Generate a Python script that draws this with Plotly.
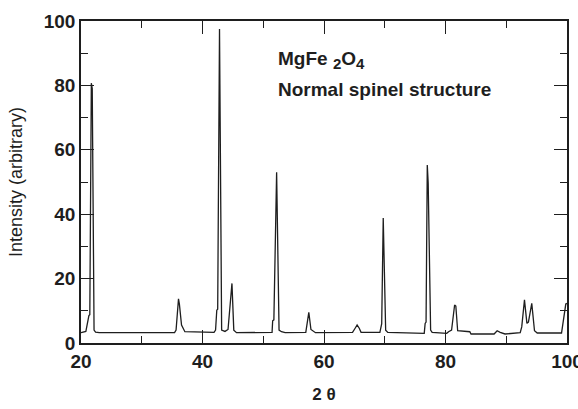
import plotly.graph_objects as go

# 2-theta positions (degrees) and measured intensity of the diffraction trace
two_theta = [20.0, 20.8, 21.3, 21.45, 21.7, 21.85, 22.15, 22.4, 23.0,
             35.4, 35.65, 36.05, 36.2, 36.55, 37.1,
             41.9, 42.15, 42.35, 42.5, 42.8, 43.15, 43.7,
             44.2, 44.6, 44.85, 45.15, 45.6,
             51.45, 51.55, 51.75, 52.2, 52.6, 53.0, 53.6,
             57.0, 57.5, 57.85, 58.6,
             64.7, 65.1, 65.45, 65.8, 66.1,
             69.2, 69.35, 69.5, 69.75, 70.15, 70.5,
             76.5, 76.65, 76.8, 77.0, 77.15, 77.55, 77.8,
             80.2, 80.5, 81.0, 81.5, 81.7, 82.0,
             84.0, 84.2, 88.0, 88.5, 89.0, 89.8, 92.3,
             92.55, 93.0, 93.4, 93.65, 94.2, 94.65, 95.1,
             99.1, 99.8, 100.0]
intensity = [3.2, 3.6, 8.5, 8.8, 80.7, 79.0, 4.0, 3.4, 3.2,
             3.2, 4.0, 13.7, 12.0, 5.6, 3.5,
             3.3, 4.0, 10.2, 10.5, 97.5, 4.0, 3.6,
             4.2, 15.0, 18.5, 4.0, 3.2,
             3.3, 6.9, 7.2, 53.0, 4.0, 3.5, 3.2,
             3.3, 9.5, 4.2, 3.2,
             3.3, 4.5, 5.6, 4.6, 3.3,
             3.3, 5.3, 6.0, 38.8, 4.0, 3.3,
             3.0, 6.1, 6.5, 55.3, 49.7, 4.0, 3.3,
             3.0, 3.5, 4.0, 11.8, 11.5, 3.8,
             3.5, 2.8, 2.8, 3.8, 3.3, 2.8, 3.2,
             5.0, 13.4, 6.1, 6.5, 12.3, 3.8, 3.1,
             3.1, 12.1, 12.3]

x_range = [20, 100]
y_range = [0, 100]
major_step = 20
minor_step = 10

ink = "#1e1e1e"
font_family = "Liberation Sans, Arial, sans-serif"

fig = go.Figure()
fig.add_trace(go.Scatter(
    x=two_theta, y=intensity, mode="lines",
    line=dict(color=ink, width=1.3),
    hoverinfo="skip", showlegend=False,
))

axis_common = dict(
    showgrid=False, zeroline=False, automargin=False,
    showline=True, linecolor=ink, linewidth=1.5, mirror="ticks",
    tickmode="linear", dtick=major_step,
    ticks="inside", ticklen=13, tickwidth=1.3, tickcolor=ink,
    minor=dict(ticks="inside", ticklen=7, tickwidth=1.3, tickcolor=ink,
               dtick=minor_step, showgrid=False),
    tickfont=dict(family=font_family, size=19, color=ink, weight="bold"),
    ticklabeloverflow="allow",
)

fig.update_xaxes(
    range=x_range, tick0=x_range[0],
    title=dict(text="2 \u03b8", font=dict(family=font_family, size=17, color=ink, weight="bold"),
               standoff=18),
    **axis_common,
)
fig.update_yaxes(
    range=y_range, tick0=y_range[0],
    title=dict(text="Intensity (arbitrary)", font=dict(family=font_family, size=18, color=ink),
               standoff=16),
    **axis_common,
)

sub = "<span style='font-size:15px'>{}</span>"
fig.add_annotation(
    x=0.401, y=0.88, xref="paper", yref="paper", xanchor="left", yanchor="middle",
    text="MgFe <sub>" + sub.format("2") + "</sub>O<sub>" + sub.format("4") + "</sub>",
    showarrow=False,
    font=dict(family=font_family, size=19, color=ink, weight="bold"),
)
fig.add_annotation(
    x=0.401, y=0.786, xref="paper", yref="paper", xanchor="left", yanchor="middle",
    text="Normal spinel structure", showarrow=False,
    font=dict(family=font_family, size=19, color=ink, weight="bold"),
)

fig.update_layout(
    width=578, height=409,
    margin=dict(l=81, r=11, t=21, b=66),
    paper_bgcolor="white", plot_bgcolor="white",
)

fig.write_html("out.html")
